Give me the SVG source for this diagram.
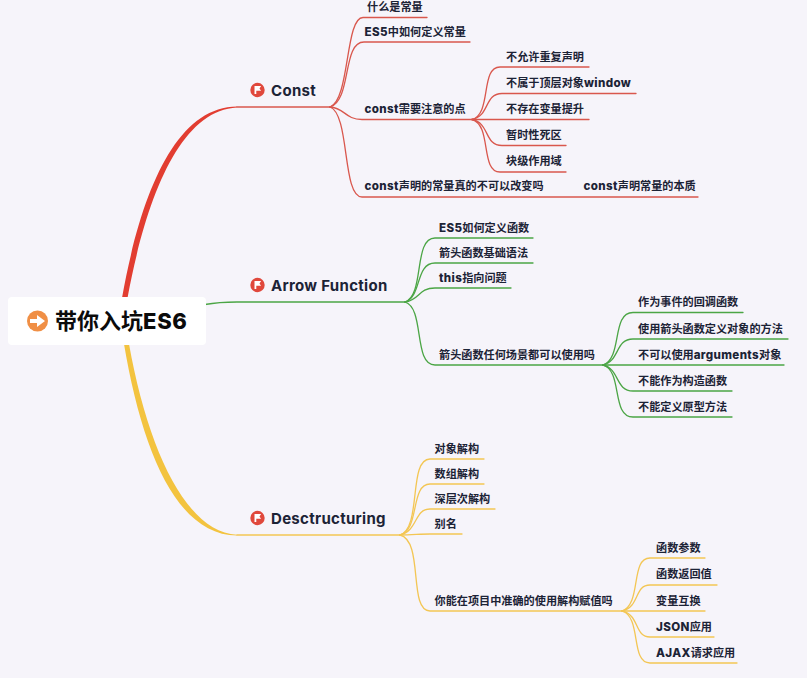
<svg xmlns="http://www.w3.org/2000/svg" width="807" height="678" viewBox="0 0 807 678">
<style>
.bg{fill:#f6f4fa}
.l{fill:none;stroke-width:1.3;stroke-linecap:round}
.r{stroke:#d9574d}.g{stroke:#4ba545}.y{stroke:#f3c654}
text{font-family:"Inter","Noto Sans CJK SC",sans-serif;fill:#1c2336}
.t{font-size:11.15px;font-weight:600}
.b{font-size:11.6px;font-weight:800;letter-spacing:.35px}
.m{font-size:15px;font-weight:700;letter-spacing:.3px}
.root{font-size:22px;font-weight:700;fill:#0b0b0b}
.rl{font-size:22px;font-weight:800;letter-spacing:.7px}
.ic{fill:#e0483c}
.fl{fill:#fff}
</style>
<defs>
<g id="flag"><circle class="ic" r="7.2"/><path class="fl" d="M-3,-4 H3.6 L2,-1.6 L3.6,0.8 H-1.2 V4 H-3 Z"/></g>
</defs>
<rect class="bg" width="807" height="678"/>
<g id="connectors">
<path fill="#e23d31" d="M122,298 C141,192 176,107 237,106.600 V107.400 C180,110 146,198 127.500,298 Z"/>
<path fill="#f3c33f" d="M124,344 C142,450 176,535 237,535.600 V534.800 C186,532 148,450 129,344 Z"/>
<path class="l g" stroke-width="2" d="M205,304.500 C216,302.500 226,302 237,302 H405"/>
<path class="l r" d="M237,107 H330"/>
<path class="l r" d="M330,107 C350,100 345,17.500 363,17.500 H427"/>
<path class="l r" d="M330,107 C352,100 342,42 364,42 H470"/>
<path class="l r" d="M330,107 C345,108 345,119.500 362,119.500 H472"/>
<path class="l r" d="M330,107 C350,114 342,197 362,197 H698"/>
<path class="l r" d="M472,119.500 C492,114 480,67 500,67 H589"/>
<path class="l r" d="M472,119.500 C490,116 484,93.500 502,93.500 H636"/>
<path class="l r" d="M472,119.500 H589"/>
<path class="l r" d="M472,119.500 C490,123 484,145.500 502,145.500 H566"/>
<path class="l r" d="M472,119.500 C492,125 480,172 500,172 H566"/>
<path class="l g" d="M405,302 C425,295 413,238 435,238 H533"/>
<path class="l g" d="M405,302 C422,297 415,263 435,263 H533"/>
<path class="l g" d="M405,302 C420,300 418,288 435,288 H511"/>
<path class="l g" d="M405,302 C425,308 413,365 435,365 H603"/>
<path class="l g" d="M603,365 C623,358 611,312.500 633,312.500 H743"/>
<path class="l g" d="M603,365 C620,361 615,339 633,339 H788"/>
<path class="l g" d="M603,365 H784"/>
<path class="l g" d="M603,365 C620,369 615,391 633,391 H732"/>
<path class="l g" d="M603,365 C623,371 611,417 633,417 H732"/>
<path class="l y" d="M237,535 H400"/>
<path class="l y" d="M400,535 C422,528 408,459 430,459 H484"/>
<path class="l y" d="M400,535 C420,530 410,484 430,484 H484"/>
<path class="l y" d="M400,535 C418,531 414,509 430,509 H495"/>
<path class="l y" d="M400,535 C412,535 420,534 430,534 H462"/>
<path class="l y" d="M400,535 C424,541 408,611 430,611 H622"/>
<path class="l y" d="M622,611 C642,604 630,558 650,558 H705"/>
<path class="l y" d="M622,611 C640,607 634,585 650,585 H717"/>
<path class="l y" d="M622,611 H705"/>
<path class="l y" d="M622,611 C640,615 634,637 650,637 H714"/>
<path class="l y" d="M622,611 C642,617 630,663 650,663 H737"/>
</g>
<g id="root">
<rect x="8" y="297" width="198" height="48" rx="4" fill="#fff"/>
<circle cx="37.500" cy="321" r="10.500" fill="#f08f45"/>
<path fill="#fff" d="M30,319 H37 V315 L45,321 L37,327 V323 H30 Z"/>
<text class="root" x="55" y="329">带你入坑<tspan class="rl">ES6</tspan></text>
</g>
<g id="n-const"><use href="#flag" x="257.500" y="90"/><text class="m" x="271" y="95.500">Const</text></g>
<g id="n-arrow"><use href="#flag" x="257.500" y="285"/><text class="m" x="271" y="290.500">Arrow Function</text></g>
<g id="n-des"><use href="#flag" x="257.500" y="518"/><text class="m" x="271" y="523.500">Desctructuring</text></g>
<g id="c1"><text class="t" x="367" y="11">什么是常量</text></g>
<g id="c2"><text class="t" x="364.500" y="36"><tspan class="b">ES5</tspan>中如何定义常量</text></g>
<g id="c3"><text class="t" x="364.500" y="113"><tspan class="b">const</tspan>需要注意的点</text></g>
<g id="c4"><text class="t" x="364.500" y="190"><tspan class="b">const</tspan>声明的常量真的不可以改变吗</text></g>
<g id="c41"><text class="t" x="583.500" y="190"><tspan class="b">const</tspan>声明常量的本质</text></g>
<g id="c31"><text class="t" x="506" y="60.500">不允许重复声明</text></g>
<g id="c32"><text class="t" x="506" y="87">不属于顶层对象<tspan class="b">window</tspan></text></g>
<g id="c33"><text class="t" x="506" y="113">不存在变量提升</text></g>
<g id="c34"><text class="t" x="506" y="139">暂时性死区</text></g>
<g id="c35"><text class="t" x="506" y="165">块级作用域</text></g>
<g id="a1"><text class="t" x="439" y="231.500"><tspan class="b">ES5</tspan>如何定义函数</text></g>
<g id="a2"><text class="t" x="439" y="256.500">箭头函数基础语法</text></g>
<g id="a3"><text class="t" x="439" y="281.500"><tspan class="b">this</tspan>指向问题</text></g>
<g id="a4"><text class="t" x="439" y="358.500">箭头函数任何场景都可以使用吗</text></g>
<g id="a41"><text class="t" x="638" y="306">作为事件的回调函数</text></g>
<g id="a42"><text class="t" x="638" y="332.500">使用箭头函数定义对象的方法</text></g>
<g id="a43"><text class="t" x="638" y="358.500">不可以使用<tspan class="b">arguments</tspan>对象</text></g>
<g id="a44"><text class="t" x="638" y="384.500">不能作为构造函数</text></g>
<g id="a45"><text class="t" x="638" y="410.500">不能定义原型方法</text></g>
<g id="d1"><text class="t" x="434.500" y="452.500">对象解构</text></g>
<g id="d2"><text class="t" x="434.500" y="477.500">数组解构</text></g>
<g id="d3"><text class="t" x="434.500" y="502.500">深层次解构</text></g>
<g id="d4"><text class="t" x="434.500" y="527.500">别名</text></g>
<g id="d5"><text class="t" x="434.500" y="604.500">你能在项目中准确的使用解构赋值吗</text></g>
<g id="d51"><text class="t" x="656" y="552">函数参数</text></g>
<g id="d52"><text class="t" x="656" y="578">函数返回值</text></g>
<g id="d53"><text class="t" x="656" y="604.500">变量互换</text></g>
<g id="d54"><text class="t" x="656" y="630.500"><tspan class="b">JSON</tspan>应用</text></g>
<g id="d55"><text class="t" x="656" y="656.500"><tspan class="b">AJAX</tspan>请求应用</text></g>
</svg>
